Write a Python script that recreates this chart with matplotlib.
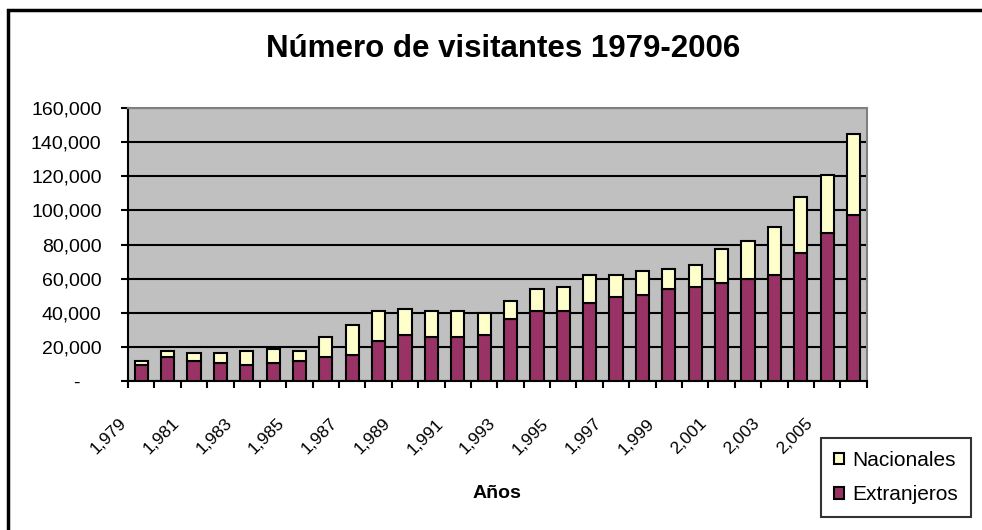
import numpy as np
import matplotlib
matplotlib.use("Agg")
import matplotlib.pyplot as plt
import matplotlib.transforms as mtransforms
from matplotlib.patches import Rectangle

plt.rcParams['font.family'] = ['Liberation Sans', 'DejaVu Sans']

# Datos
anios = list(range(1979, 2007))
extranjeros = [9300, 14200, 11700, 10700, 9300, 10700, 11700, 14200, 15200, 23500,
               27000, 25900, 25900, 27000, 36400, 41100, 41100, 45700, 49200, 50400,
               53900, 55100, 57400, 59700, 62100, 74900, 86600, 97100]
totales = [11900, 17700, 16500, 16500, 17700, 18900, 17700, 25900, 32700, 41100,
           42200, 41100, 41100, 40100, 46900, 53900, 55100, 62100, 62100, 64400,
           65600, 67900, 77300, 81900, 90100, 107600, 120500, 145000]
nacionales = [t - e for t, e in zip(totales, extranjeros)]

y_ticks = [0, 20000, 40000, 60000, 80000, 100000, 120000, 140000, 160000]

fig = plt.figure(figsize=(9.82, 5.3), dpi=100)
ax = fig.add_axes([128/982, 1 - 381/530, (866.7 - 128)/982, (381 - 108)/530])

x = np.arange(len(anios))
ax.bar(x, extranjeros, width=0.5, color='#993366', edgecolor='black', linewidth=1.5,
       label='Extranjeros', zorder=3)
ax.bar(x, nacionales, width=0.5, bottom=extranjeros, color='#FFFFCC', edgecolor='black',
       linewidth=1.5, label='Nacionales', zorder=3)

ax.set_facecolor('#C0C0C0')
ax.set_xlim(-0.5, len(anios) - 0.5)
ax.set_ylim(0, 160000)
ax.set_yticks(y_ticks)
ax.set_yticklabels(['-    '] + [f"{v:,}" for v in y_ticks[1:]], fontsize=14)
ax.tick_params(axis='y', length=5, width=1.5, pad=14)
ax.yaxis.grid(True, color='black', linewidth=1.5, zorder=1)
ax.set_axisbelow(True)

# marcas entre categorías y etiquetas cada dos años
ax.set_xticks(np.arange(-0.5, len(anios), 1.0))
ax.set_xticklabels([])
ax.tick_params(axis='x', which='major', length=5, width=1.5)
ax.set_xticks(x[::2], minor=True)
ax.set_xticklabels([f"{a:,}" for a in anios[::2]], minor=True, rotation=45,
                   ha='right', va='top', fontsize=12.5)
ax.tick_params(axis='x', which='minor', length=0, pad=25)
offset = mtransforms.ScaledTranslation(-12/100, 0, fig.dpi_scale_trans)
for lbl in ax.get_xticklabels(minor=True):
    lbl.set_transform(lbl.get_transform() + offset)

for s in ['left', 'bottom']:
    ax.spines[s].set_color('black')
    ax.spines[s].set_linewidth(1.5)
for s in ['top', 'right']:
    ax.spines[s].set_color('#808080')
    ax.spines[s].set_linewidth(1.5)

fig.text(503/982, 1 - 49/530, 'Número de visitantes 1979-2006', ha='center',
         va='center', fontsize=22.5, fontweight='bold')
fig.text(497/982, 1 - 493/530, 'Años', ha='center', va='center', fontsize=14,
         fontweight='bold')

handles, labels = ax.get_legend_handles_labels()
leg = fig.legend(handles[::-1], labels[::-1], loc='lower left',
                 bbox_to_anchor=(821/982, 1 - 517/530), fontsize=15, frameon=True,
                 fancybox=False, edgecolor='black', handlelength=0.5, handleheight=0.5,
                 handletextpad=0.4, labelspacing=0.75, borderpad=0.6, borderaxespad=0)
leg.get_frame().set_linewidth(1.5)

fig.patches.append(Rectangle((8/982, -0.1), 1.2, 0.1 + 520/530, transform=fig.transFigure,
                             fill=False, edgecolor='black', linewidth=2.5))

fig.savefig('out.png', dpi=100)
